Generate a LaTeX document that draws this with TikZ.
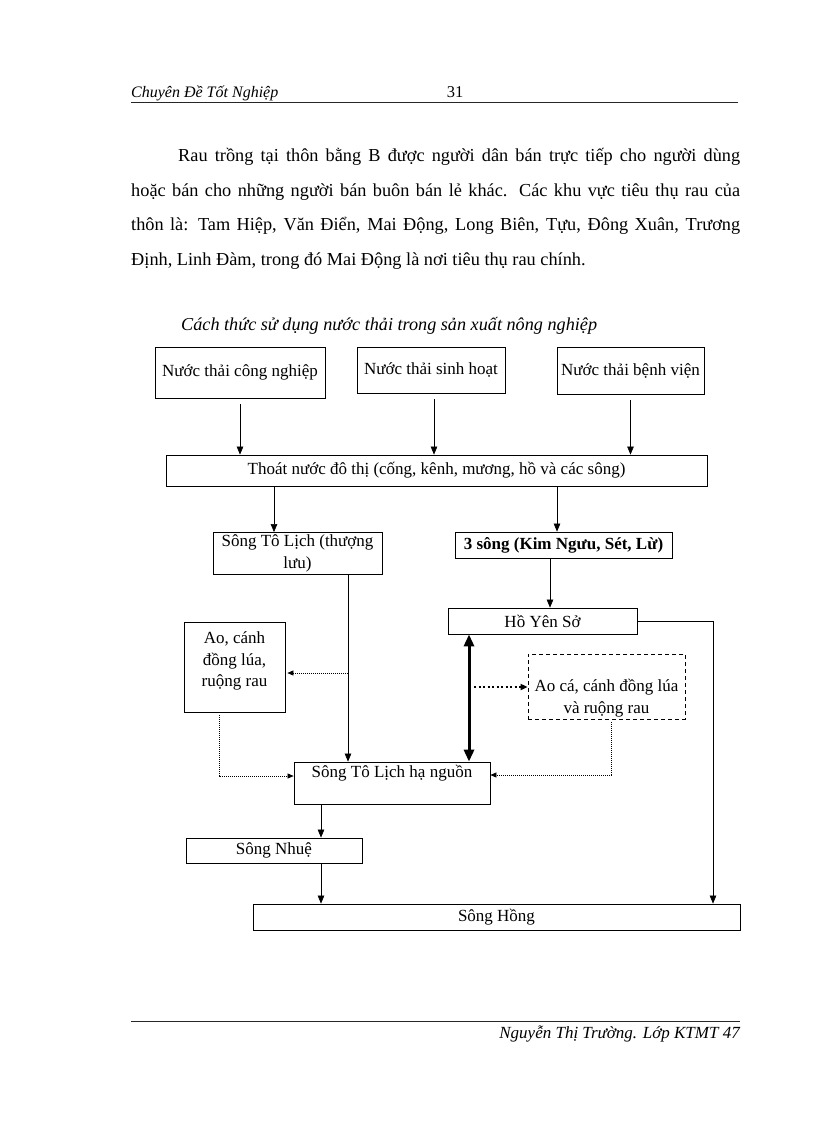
\documentclass[tikz,border=0pt]{standalone}
\usepackage{fontspec}
\setmainfont{Liberation Serif}
\usetikzlibrary{arrows.meta,calc}
\newcommand{\boxfnt}{\fontsize{17}{21.5}\selectfont}
\newcommand{\parfnt}{\fontsize{18.3}{34.5}\selectfont}
\newcommand{\capfnt}{\fontsize{18.2}{21}\selectfont\itshape}
\newcommand{\hdrfnt}{\fontsize{16}{19}\selectfont\itshape}
\newcommand{\ftrfnt}{\fontsize{17}{20}\selectfont\itshape}
\begin{document}
\begin{tikzpicture}[x=1pt,y=-1pt,
  box/.style={draw, line width=0.8pt, inner sep=0pt, align=center, font=\boxfnt},
  dbox/.style={draw, line width=0.8pt, dash pattern=on 4pt off 3pt, inner sep=0pt},
  txt/.style={inner sep=0pt, align=center, font=\boxfnt},
  arr/.style={line width=0.6pt, -{Triangle[length=8pt,width=6.5pt]}},
  darr/.style={line width=0.6pt, dash pattern=on 1pt off 1pt, -{Triangle[length=6pt,width=5pt]}},
  tarr/.style={line width=3pt, {Triangle[length=12pt,width=10pt]}-{Triangle[length=12pt,width=10pt]}},
  dtarr/.style={line width=2pt, dash pattern=on 2pt off 2.5pt, -{Triangle[length=7pt,width=6pt]}},
  rule/.style={line width=0.8pt, black!85}]
\useasboundingbox (0,0) rectangle (816,1123);
\fill[white] (0,0) rectangle (816,1123);

% header
\node[anchor=base west, inner sep=0pt, font=\hdrfnt] (hd) at (131,98) {Chuyên Đề Tốt Nghiệp};
\node[anchor=base, inner sep=0pt, font=\fontsize{16.5}{19}\selectfont] (pg) at (455,98) {31};
\draw[rule] (131,102) -- (738,102);

% paragraph
\node[anchor=base west, inner sep=0pt, font=\parfnt] (p1) at (178,162)
  {\makebox[562pt][s]{Rau trồng tại thôn bằng B được người dân bán trực tiếp cho người dùng}};
\node[anchor=base west, inner sep=0pt, font=\parfnt] (p2) at (131,196.5)
  {\makebox[609pt][s]{hoặc bán cho những người bán buôn bán lẻ khác. Các khu vực tiêu thụ rau của}};
\node[anchor=base west, inner sep=0pt, font=\parfnt] (p3) at (131,231)
  {\makebox[609pt][s]{thôn là: Tam Hiệp, Văn Điển, Mai Động, Long Biên, Tựu, Đông Xuân, Trương}};
\node[anchor=base west, inner sep=0pt, font=\parfnt] (p4) at (131,265)
  {Định, Linh Đàm, trong đó Mai Động là nơi tiêu thụ rau chính.};

% caption
\node[anchor=base west, inner sep=0pt, font=\capfnt] (cap) at (181,330)
  {Cách thức sử dụng nước thải trong sản xuất nông nghiệp};

% boxes
\node[box, minimum width=170pt, minimum height=51pt] (b1) at (240,372.5) {Nước thải công nghiệp};
\node[box, minimum width=148pt, minimum height=46pt] (b2) at (431,370) {Nước thải sinh hoạt};
\node[box, minimum width=147pt, minimum height=47pt] (b3) at (630.5,370.5) {Nước thải bệnh viện};
\node[box, minimum width=541pt, minimum height=31pt] (thoat) at (436.5,470.5) {Thoát nước đô thị (cống, kênh, mương, hồ và các sông)};
\node[box, minimum width=169pt, minimum height=42pt] (stl) at (297.5,553.5) {Sông Tô Lịch (thượng\\lưu)};
\node[box, minimum width=217pt, minimum height=26pt, font=\boxfnt\bfseries] (s3) at (563.5,545) {3 sông (Kim Ngưu, Sét, Lừ)};
\node[box, minimum width=189pt, minimum height=26pt] (ho) at (542.5,621) {Hồ Yên Sở};
\node[box, minimum width=101pt, minimum height=90pt] (ao) at (234.5,667) {};
\node[txt] (aot) at (234.5,661) {Ao, cánh\\đồng lúa,\\ruộng rau};
\node[dbox, minimum width=157pt, minimum height=65pt] (ac) at (606.5,686.5) {};
\node[txt] (act) at (606.5,698) {Ao cá, cánh đồng lúa\\và ruộng rau};
\node[box, minimum width=196pt, minimum height=42pt] (hn) at (392,783) {};
\node[txt] (hnt) at (392,773) {Sông Tô Lịch hạ nguồn};
\node[box, minimum width=176pt, minimum height=25pt] (nh) at (274,850.5) {Sông Nhuệ};
\node[box, minimum width=487pt, minimum height=26pt] (hong) at (496.5,917) {Sông Hồng};

% guide coordinates
\coordinate (ga2) at (434,0);
\coordinate (gs1) at (274,0);
\coordinate (gs2) at (557,0);
\coordinate (gh) at (550,0);
\coordinate (gr) at (713,0);
\coordinate (gv) at (348,0);
\coordinate (gt) at (469,0);
\coordinate (gd) at (611,0);
\coordinate (ga) at (219,0);
\coordinate (gn) at (321,0);

% connectors
\draw[arr, shorten <=6pt] (b1.south) -- (b1.south |- thoat.north);
\draw[arr, shorten <=6pt] (ga2 |- b2.south) -- (ga2 |- thoat.north);
\draw[arr, shorten <=6pt] (b3.south) -- (b3.south |- thoat.north);
\draw[arr] (gs1 |- thoat.south) -- (gs1 |- stl.north);
\draw[arr] (gs2 |- thoat.south) -- (gs2 |- s3.north);
\draw[arr] (gh |- s3.south) -- (gh |- ho.north);
\draw[arr] (ho.east) -| (gr |- hong.north);
\draw[arr] (gv |- stl.south) -- (gv |- hn.north);
\coordinate (jv) at (348,673);
\draw[darr] (jv) -- ([xshift=2pt]ao.east |- jv);
\draw[tarr] (gt |- ho.south) -- (gt |- hn.north);
\coordinate (jt) at (474,687);
\draw[dtarr] (jt) -- (ac.west |- jt);
\coordinate (jd) at (611,775);
\draw[darr, shorten <=3pt] (gd |- ac.south) -- (jd) -- (hn.east |- jd);
\coordinate (ja) at (219,776);
\draw[darr, shorten <=3pt] (ga |- ao.south) -- (ja) -- (hn.west |- ja);
\draw[arr] (gn |- hn.south) -- (gn |- nh.north);
\draw[arr] (gn |- nh.south) -- (gn |- hong.north);

% footer
\draw[rule] (131,1021) -- (740,1021);
\node[anchor=base east, inner sep=0pt, font=\ftrfnt] (ft) at (740,1038) {Nguyễn Thị Trường. Lớp KTMT 47};
\end{tikzpicture}
\end{document}
